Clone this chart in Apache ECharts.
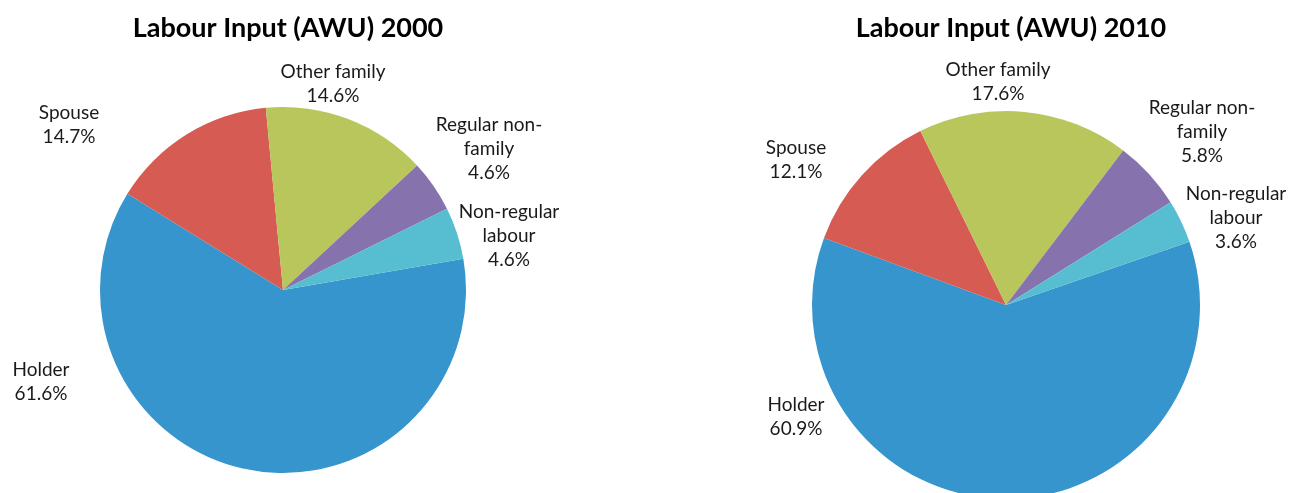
<!DOCTYPE html>
<html>
<head>
<meta charset="utf-8">
<script src="https://cdn.jsdelivr.net/npm/echarts@6/dist/echarts.min.js"></script>
<style>
  html, body { margin: 0; padding: 0; background: #fff; }
  #main { width: 1291px; height: 493px; }
</style>
</head>
<body>
<div id="main"></div>
<script>
// categories (same order in both years, clockwise from the right)
var categories = ['Holder', 'Spouse', 'Other family', 'Regular non-\nfamily', 'Non-regular\nlabour'];
var values2000 = [61.6, 14.7, 14.6, 4.6, 4.6];
var values2010 = [60.9, 12.1, 17.6, 5.8, 3.6];
var titles = ['Labour Input (AWU) 2000', 'Labour Input (AWU) 2010'];

var colors = ['#3795CD', '#D65B53', '#B8C65B', '#8672AD', '#57BDD0'];

// where Excel put the data labels (label centre, px)
var labelPos2000 = [[41, 382], [69, 125], [333, 84], [489, 149], [509, 236]];
var labelPos2010 = [[796, 417], [796, 160], [998, 82], [1202, 132], [1236, 218]];

var chart = echarts.init(document.getElementById('main'));

function makeData(vals) {
  return vals.map(function (v, i) {
    return { name: categories[i], value: v };
  });
}

function makePie(vals, center, radius, startAngle, pos) {
  return {
    type: 'pie',
    center: center,
    radius: radius,
    startAngle: startAngle,
    clockwise: true,
    data: makeData(vals),
    itemStyle: { borderWidth: 0 },
    emphasis: { disabled: true },
    label: {
      show: true,
      position: 'outside',
      alignTo: 'none',
      overflow: 'none',
      formatter: '{b}\n{c}%',
      fontFamily: 'Lato',
      fontSize: 19,
      lineHeight: 24,
      color: '#1a1a1a',
      align: 'center'
    },
    labelLine: { show: false },
    labelLayout: function (params) {
      var p = pos[params.dataIndex];
      return { x: p[0], y: p[1], align: 'center', verticalAlign: 'middle' };
    }
  };
}

var titleStyle = { fontFamily: 'Lato', fontWeight: 'bold', fontSize: 27, color: '#000' };

var option = {
  animation: false,
  color: colors,
  title: [{
    text: titles[0],
    left: 283,
    top: 10,
    textAlign: 'center',
    textStyle: titleStyle
  }, {
    text: titles[1],
    left: 1006,
    top: 10,
    textAlign: 'center',
    textStyle: titleStyle
  }],
  series: [
    makePie(values2000, [283, 290], 183, 9.8, labelPos2000),
    makePie(values2010, [1006, 305], 194, 19, labelPos2010)
  ]
};

chart.setOption(option);
</script>
</body>
</html>
